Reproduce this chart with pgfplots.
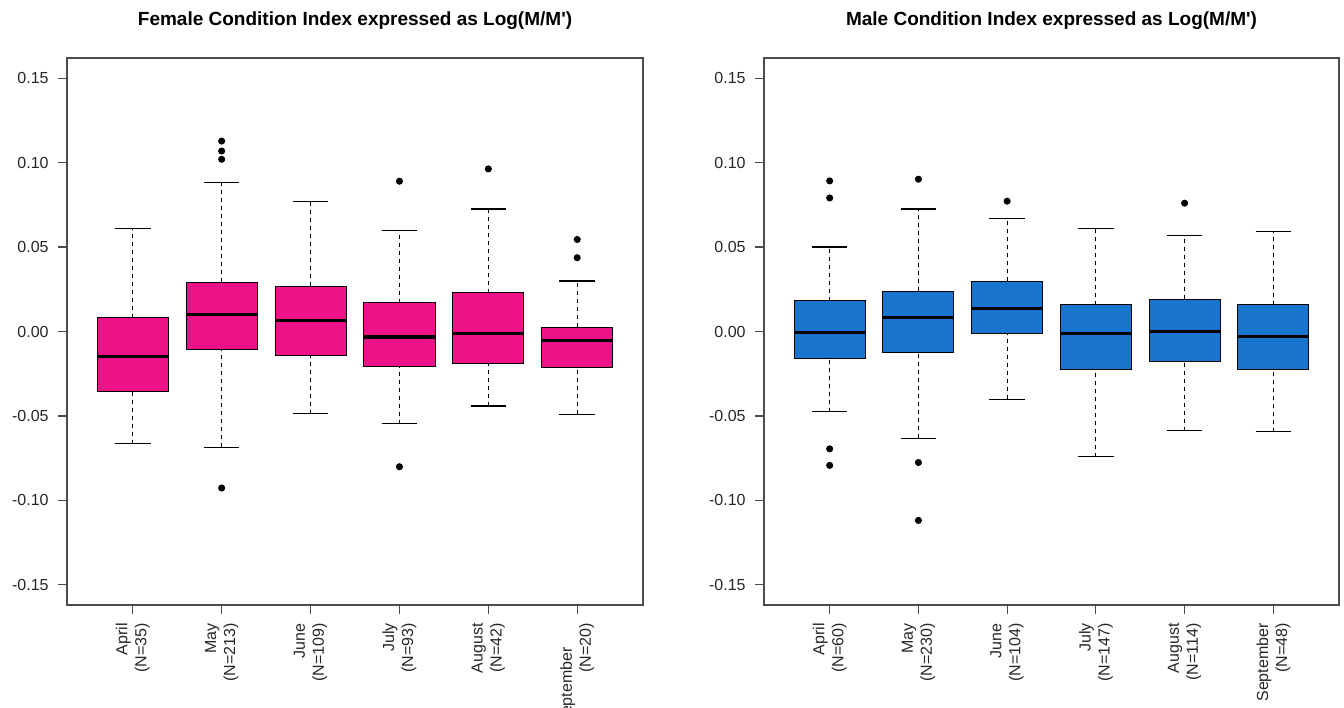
\documentclass[border=0pt]{standalone}
\usepackage{fontspec}
\setmainfont{Liberation Sans}
\usepackage{pgfplots}
\pgfplotsset{compat=1.18}
\usepgfplotslibrary{statistics}

\definecolor{fempink}{RGB}{238,18,137}
\definecolor{maleblue}{RGB}{24,116,205}
\definecolor{framegray}{gray}{0.3}

\pgfplotsset{
  rpanel/.style={
    scale only axis, width=288pt, height=273.5pt,
    xmin=0.26, xmax=6.74, ymin=-0.162, ymax=0.162,
    xtick={1,2,3,4,5,6},
    ytick={-0.15,-0.10,-0.05,0,0.05,0.10,0.15},
    yticklabels={-0.15,-0.10,-0.05,0.00,0.05,0.10,0.15},
    tick pos=left, tick align=outside, major tick length=4.5pt,
    axis line style={framegray, line width=0.6pt},
    every tick/.style={framegray, line width=0.6pt},
    ticklabel style={font=\fontsize{8}{9.5}\selectfont, text=black!85},
    yticklabel style={inner sep=0pt, xshift=-4.5pt},
    xticklabel style={rotate=90, anchor=east, align=right, inner sep=0pt, xshift=-4.5pt},
    title style={font=\bfseries\fontsize{9.5}{12}\selectfont, at={(0.5,1)}, anchor=base, yshift=10pt},
  },
  rbox/.style={
    draw=black, line width=0.5pt,
    mark=*, mark size=1.5pt, mark options={draw=black, fill=black, solid},
    boxplot/draw direction=y,
    boxplot/box extend=0.8, boxplot/whisker extend=0.4,
    boxplot/every median/.style={line width=1.6pt, black},
    boxplot/draw/lower whisker/.code={%
      \draw[dash pattern=on 2pt off 2pt, line width=0.5pt]
        (boxplot cs:\pgfplotsboxplotvalue{lower whisker}) --
        (boxplot cs:\pgfplotsboxplotvalue{lower quartile});
      \draw[line width=0.6pt]
        (boxplot whisker cs:\pgfplotsboxplotvalue{lower whisker},0) --
        (boxplot whisker cs:\pgfplotsboxplotvalue{lower whisker},1);
    },
    boxplot/draw/upper whisker/.code={%
      \draw[dash pattern=on 2pt off 2pt, line width=0.5pt]
        (boxplot cs:\pgfplotsboxplotvalue{upper quartile}) --
        (boxplot cs:\pgfplotsboxplotvalue{upper whisker});
      \draw[line width=0.6pt]
        (boxplot whisker cs:\pgfplotsboxplotvalue{upper whisker},0) --
        (boxplot whisker cs:\pgfplotsboxplotvalue{upper whisker},1);
    },
  },
}

\begin{document}
\begin{tikzpicture}
\useasboundingbox (0,0) rectangle (672pt,353.5pt);

% female
\begin{axis}[rpanel, at={(33.5pt,51pt)}, anchor=south west,
    title={Female Condition Index expressed as Log(M/M\textquotesingle)},
    xticklabels={{April\\(N=35)},{May\\(N=213)},{June\\(N=109)},{July\\(N=93)},{August\\(N=42)},{September\hspace*{12pt}\\(N=20)}}]
  \addplot[rbox, fill=fempink, boxplot prepared={draw position=1,
    lower whisker=-0.0664, lower quartile=-0.0356, median=-0.0146,
    upper quartile=0.0081, upper whisker=0.0608}] coordinates {};
  \addplot[rbox, fill=fempink, boxplot prepared={draw position=2,
    lower whisker=-0.0685, lower quartile=-0.0104, median=0.0102,
    upper quartile=0.0293, upper whisker=0.0884}]
    table[row sep=\\,y index=0] {0.1128\\ 0.1069\\ 0.1020\\ -0.0927\\};
  \addplot[rbox, fill=fempink, boxplot prepared={draw position=3,
    lower whisker=-0.0488, lower quartile=-0.0144, median=0.0067,
    upper quartile=0.0268, upper whisker=0.0772}] coordinates {};
  \addplot[rbox, fill=fempink, boxplot prepared={draw position=4,
    lower whisker=-0.0547, lower quartile=-0.0207, median=-0.0033,
    upper quartile=0.0171, upper whisker=0.0597}]
    table[row sep=\\,y index=0] {0.0890\\ -0.0801\\};
  \addplot[rbox, fill=fempink, boxplot prepared={draw position=5,
    lower whisker=-0.0441, lower quartile=-0.0191, median=-0.0012,
    upper quartile=0.0230, upper whisker=0.0725}]
    table[row sep=\\,y index=0] {0.0963\\};
  \addplot[rbox, fill=fempink, boxplot prepared={draw position=6,
    lower whisker=-0.0490, lower quartile=-0.0213, median=-0.0051,
    upper quartile=0.0024, upper whisker=0.0299}]
    table[row sep=\\,y index=0] {0.0545\\ 0.0437\\};
\end{axis}

% male
\begin{axis}[rpanel, at={(382pt,51pt)}, anchor=south west, width=287.5pt,
    title={Male Condition Index expressed as Log(M/M\textquotesingle)},
    xticklabels={{April\\(N=60)},{May\\(N=230)},{June\\(N=104)},{July\\(N=147)},{August\\(N=114)},{September\\(N=48)}}]
  \addplot[rbox, fill=maleblue, boxplot prepared={draw position=1,
    lower whisker=-0.0474, lower quartile=-0.0158, median=-0.0006,
    upper quartile=0.0181, upper whisker=0.0500}]
    table[row sep=\\,y index=0] {0.0892\\ 0.0791\\ -0.0695\\ -0.0793\\};
  \addplot[rbox, fill=maleblue, boxplot prepared={draw position=2,
    lower whisker=-0.0632, lower quartile=-0.0126, median=0.0081,
    upper quartile=0.0238, upper whisker=0.0725}]
    table[row sep=\\,y index=0] {0.0902\\ -0.0776\\ -0.1119\\};
  \addplot[rbox, fill=maleblue, boxplot prepared={draw position=3,
    lower whisker=-0.0402, lower quartile=-0.0012, median=0.0137,
    upper quartile=0.0299, upper whisker=0.0667}]
    table[row sep=\\,y index=0] {0.0772\\};
  \addplot[rbox, fill=maleblue, boxplot prepared={draw position=4,
    lower whisker=-0.0742, lower quartile=-0.0223, median=-0.0010,
    upper quartile=0.0159, upper whisker=0.0608}] coordinates {};
  \addplot[rbox, fill=maleblue, boxplot prepared={draw position=5,
    lower whisker=-0.0587, lower quartile=-0.0179, median=0.0000,
    upper quartile=0.0191, upper whisker=0.0567}]
    table[row sep=\\,y index=0] {0.0760\\};
  \addplot[rbox, fill=maleblue, boxplot prepared={draw position=6,
    lower whisker=-0.0593, lower quartile=-0.0223, median=-0.0031,
    upper quartile=0.0159, upper whisker=0.0594}] coordinates {};
\end{axis}
\end{tikzpicture}
\end{document}
